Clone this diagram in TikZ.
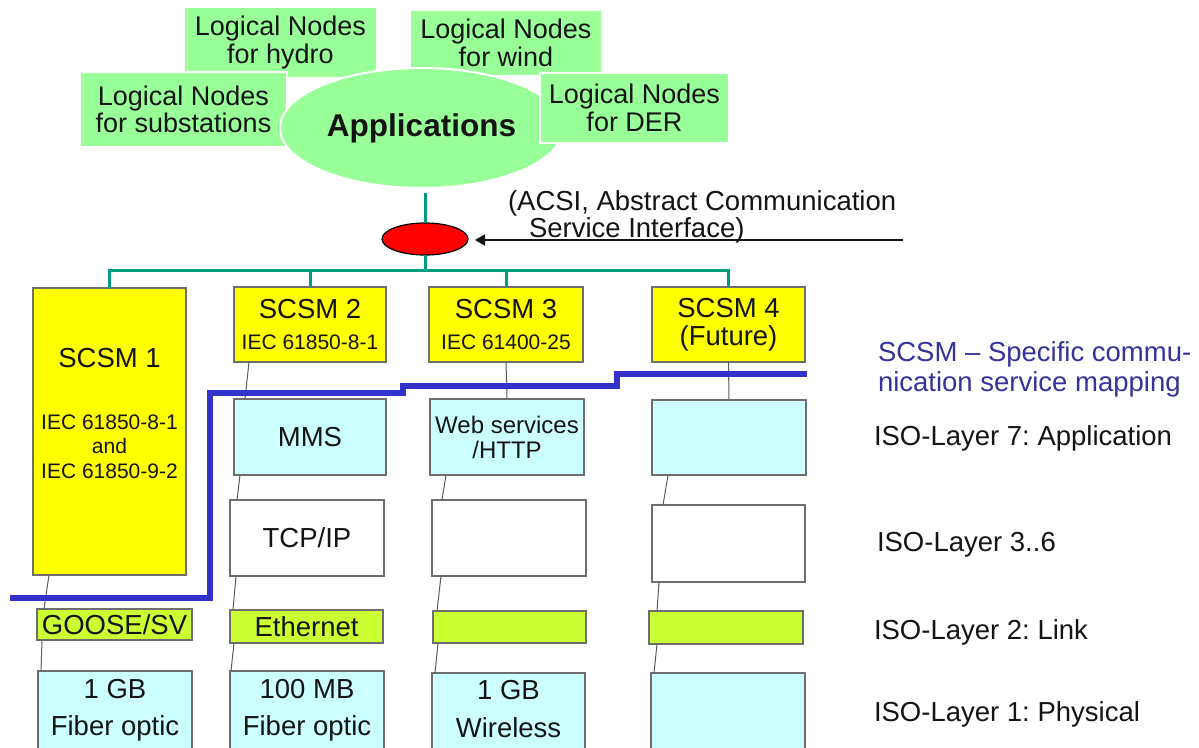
\documentclass[tikz,border=0pt]{standalone}
\usepackage{fontspec}
\setmainfont{Liberation Sans}
\usetikzlibrary{shapes.geometric,arrows.meta}
\frenchspacing

\definecolor{leafgreen}{RGB}{153,255,153}
\definecolor{smyellow}{RGB}{255,255,0}
\definecolor{layercyan}{RGB}{204,255,255}
\definecolor{linklime}{RGB}{204,255,51}
\definecolor{busteal}{RGB}{0,156,125}
\definecolor{mapblue}{RGB}{51,51,204}
\definecolor{labelblue}{RGB}{51,51,153}
\definecolor{edgegray}{RGB}{110,110,110}
\definecolor{ink}{RGB}{20,20,20}

\newcommand\fs[2]{\fontsize{#1}{#2}\selectfont}

\begin{document}
\begin{tikzpicture}[x=1pt,y=-1pt,
  every node/.style={inner sep=0pt, outer sep=0pt, text=ink},
  sz/.style 2 args={minimum width=#1pt, minimum height=#2pt},
  leaf/.style={rectangle, draw=white, line width=1.5pt, fill=leafgreen, align=center, font=\fs{27}{27.5}},
  cell/.style={rectangle, draw=edgegray, line width=1.2pt, align=center, font=\fs{27.5}{27.5}},
  scsm/.style={cell, fill=smyellow},
  applayer/.style={cell, fill=layercyan},
  midlayer/.style={cell, fill=white},
  linklayer/.style={cell, fill=linklime},
  phylayer/.style={cell, fill=layercyan},
  bus/.style={draw=busteal, line width=3pt},
  wire/.style={draw=ink!70, line width=1pt},
  mapline/.style={draw=mapblue, line width=6.5pt},
  layername/.style={anchor=base west, align=left, font=\fs{27.5}{30}},
]
\useasboundingbox (0,0) rectangle (1199,747);

% logical node groups around the application ellipse
\node[leaf, sz={193}{71}] (hydro) at (280.5,42.5) {Logical Nodes\\for hydro};
\node[leaf, sz={192}{66}] (wind) at (506,43) {Logical Nodes\\for wind};
\node[leaf, sz={207}{75}] (subst) at (183.5,109.5) {Logical Nodes\\for substations};
\node[ellipse, draw=white, line width=2pt, fill=leafgreen, sz={283}{120},
      font=\bfseries\fs{31.5}{32}] (app) at (421.5,128) {Applications};
\node[leaf, sz={189}{70}] (der) at (634.5,108) {Logical Nodes\\for DER};

% abstract communication service interface
\node[ellipse, draw=black, line width=1.2pt, fill=red, sz={86}{32}] (acsi) at (425,239) {};
\draw[bus, shorten <=5pt] (app.south -| acsi.north) -- (acsi.north);
\coordinate (acsiTail) at (903,240);
\draw[draw=ink, line width=1.8pt, shorten >=7pt, -{Triangle[length=10pt,width=11pt]}]
  (acsiTail) -- (acsiTail -| acsi.east);
\node[anchor=base west, align=left, font=\fs{27.5}{27}] (acsiText) at (508,237)
  {(ACSI, Abstract Communication\\\hspace*{21pt}Service Interface)};

% specific communication service mappings
\node[scsm, sz={153}{287}, font=\fs{21}{24.5}] (s1) at (109.5,431.5)
  {{\fs{27.5}{27.5}SCSM 1}\\[37pt]IEC 61850-8-1\\and\\IEC 61850-9-2\rule[-36pt]{0pt}{36pt}};
\node[scsm, sz={152}{75}] (s2) at (310,324.5) {SCSM 2\\[4pt]{\fs{21}{24.5}IEC 61850-8-1}};
\node[scsm, sz={154}{75}] (s3) at (506,324.5) {SCSM 3\\[4pt]{\fs{21}{24.5}IEC 61400-25}};
\node[scsm, sz={153}{75}] (s4) at (728.5,324.5) {SCSM 4\\(Future)};

% bus from the interface to the mappings
\coordinate (busy) at (0,270);
\draw[bus] (acsi.south) -- (acsi.south |- busy);
\draw[bus] (s1.north) |- (s4.north |- busy) -- (s4.north);
\draw[bus] (s2.north) -- (s2.north |- busy);
\draw[bus] (s3.north) -- (s3.north |- busy);

% ISO layer 7
\node[applayer, sz={152}{76}] (a2) at (310,437) {MMS};
\node[applayer, sz={154}{76}, font=\fs{24}{25}] (a3) at (507,437) {Web services\\/HTTP};
\node[applayer, sz={154}{75}] (a4) at (729,437.5) {};

% ISO layers 3..6
\node[midlayer, sz={154}{76}] (t2) at (307,538) {TCP/IP};
\node[midlayer, sz={154}{76}] (t3) at (509,538) {};
\node[midlayer, sz={153}{77}] (t4) at (728.5,543.5) {};

% ISO layer 2
\node[linklayer, sz={155}{31}] (l1) at (114.5,624.5) {GOOSE/SV};
\node[linklayer, sz={153}{33}] (l2) at (306.5,626.5) {Ethernet};
\node[linklayer, sz={153}{32}] (l3) at (509.5,627) {};
\node[linklayer, sz={154}{33}] (l4) at (726,627.5) {};

% ISO layer 1
\node[phylayer, sz={154}{78}] (p1) at (115,710) {1 GB\\[10pt]Fiber optic};
\node[phylayer, sz={154}{78}] (p2) at (307,710) {100 MB\\[10pt]Fiber optic};
\node[phylayer, sz={153}{76}] (p3) at (508.5,711) {1 GB\\[10pt]Wireless\rule[-4pt]{0pt}{4pt}};
\node[phylayer, sz={154}{76}] (p4) at (728,711) {};

% thin links down each stack
\draw[wire] ([xshift=16pt]s1.south west) -- ([xshift=7pt]l1.north west);
\draw[wire] ([xshift=5pt]l1.south west) -- ([xshift=3pt]p1.north west);
\draw[wire] ([xshift=15pt]s2.south west) -- ([xshift=11pt]a2.north west);
\draw[wire] ([xshift=6pt]a2.south west) -- ([xshift=7pt]t2.north west);
\draw[wire] ([xshift=6pt]t2.south west) -- ([xshift=3pt]l2.north west);
\draw[wire] ([xshift=4pt]l2.south west) -- ([xshift=1pt]p2.north west);
\draw[wire] (s3.south) -- (a3.north);
\draw[wire] ([xshift=16pt]a3.south west) -- ([xshift=10pt]t3.north west);
\draw[wire] ([xshift=9pt]t3.south west) -- ([xshift=4pt]l3.north west);
\draw[wire] ([xshift=5pt]l3.south west) -- ([xshift=3pt]p3.north west);
\draw[wire] (s4.south) -- (a4.north);
\draw[wire] ([xshift=16pt]a4.south west) -- ([xshift=11pt]t4.north west);
\draw[wire] ([xshift=7pt]t4.south west) -- ([xshift=8pt]l4.north west);
\draw[wire] ([xshift=8pt]l4.south west) -- ([xshift=3pt]p4.north west);

% boundary of the specific mapping
\draw[mapline] (10,598) -- (210,598) -- (210,393) -- (403,393) -- (403,386)
  -- (617,386) -- (617,374) -- (807,374);

% layer names
\node[layername, text=labelblue] (scsmText) at (878,391)
  {SCSM – Specific commu-\\nication service mapping};
\node[layername] (iso7) at (874,445) {ISO-Layer 7: Application};
\node[layername] (iso36) at (877,551) {ISO-Layer 3..6};
\node[layername] (iso2) at (874,639) {ISO-Layer 2: Link};
\node[layername] (iso1) at (874,721) {ISO-Layer 1: Physical};
\end{tikzpicture}
\end{document}
